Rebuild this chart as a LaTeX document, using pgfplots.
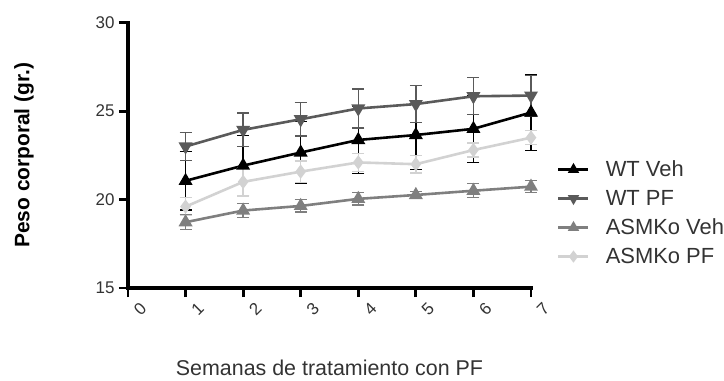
\documentclass[border=0pt]{standalone}
\usepackage{pgfplots}
\pgfplotsset{compat=1.18}
\usepackage{fontspec}
\setmainfont{Liberation Sans}

\definecolor{wtveh}{HTML}{000000}
\definecolor{wtpf}{HTML}{5A5A5A}
\definecolor{koveh}{HTML}{7F7F7F}
\definecolor{kopf}{HTML}{D2D2D2}
\definecolor{txt}{HTML}{333333}

% week, mean body weight (g), SEM
\pgfplotstableread{
x y e
1 21.06 1.65
2 21.92 1.70
3 22.66 1.75
4 23.37 1.90
5 23.65 1.95
6 24.00 1.90
7 24.92 2.15
}\wtveh
\pgfplotstableread{
x y e
1 23.00 0.80
2 23.94 0.95
3 24.54 0.95
4 25.15 1.10
5 25.40 1.05
6 25.84 1.05
7 25.88 1.15
}\wtpf
\pgfplotstableread{
x y e
1 18.72 0.40
2 19.38 0.40
3 19.64 0.35
4 20.04 0.35
5 20.26 0.20
6 20.50 0.40
7 20.73 0.35
}\koveh
\pgfplotstableread{
x y e
1 19.60 0.50
2 21.00 0.80
3 21.58 0.60
4 22.10 0.50
5 22.00 0.50
6 22.80 0.40
7 23.50 0.40
}\kopf

\begin{document}
\begin{tikzpicture}
\useasboundingbox (-128bp,-93bp) rectangle (596bp,288bp);
\begin{axis}[
  scale only axis,
  width=403bp, height=265.3bp,
  xmin=0, xmax=7, ymin=15, ymax=30,
  axis lines*=left,
  axis line style={line width=3.5bp, -, line cap=rect},
  xtick={0,...,7},
  ytick={15,20,25,30},
  tick align=outside,
  major tick length=9bp,
  tick style={line width=2.8bp, black},
  /pgf/number format/assume math mode=true,
  xticklabel style={rotate=45, anchor=center, yshift=-17bp},
  yticklabel style={xshift=-1bp},
  xticklabel={\fontsize{17}{19}\selectfont\color{txt}\pgfmathprintnumber{\tick}},
  yticklabel={\fontsize{17}{19}\selectfont\color{txt}\pgfmathprintnumber{\tick}},
  clip=false,
  xlabel={Semanas de tratamiento con PF},
  xlabel style={at={(axis description cs:0.5,0)}, anchor=center, yshift=-80bp,
    font=\fontsize{21.5}{25}\selectfont, text=txt},
  ylabel={Peso corporal (gr.)},
  ylabel style={at={(axis description cs:-0.258,0.5)}, anchor=center,
    font=\fontsize{21}{25}\selectfont\bfseries, text=black},
  legend style={at={(axis description cs:1,0.283)}, anchor=west, xshift=26bp,
    draw=none, fill=none, inner sep=0pt, row sep=8bp,
    font=\fontsize{22}{25}\selectfont, text=txt,
    nodes={inner sep=2bp},
    /tikz/every odd column/.style={column sep=14bp}},
  legend cell align=left,
  legend image code/.code={
    \draw[line width=2.6bp] (0bp,0bp) -- (30bp,0bp);
    \draw[line width=2.6bp] plot[mark size=4bp] coordinates {(15bp,0bp)};
  },
  every axis plot/.append style={line width=2.6bp},
  error bars/y dir=both,
  error bars/y explicit,
  error bars/error bar style={line width=1.3bp, solid},
  error bars/error mark options={rotate=90, mark size=6bp, line width=1.3bp},
]
\addplot[color=wtveh, mark=triangle*, mark size=5.5bp,
  mark options={solid, fill=wtveh}]
  table[x=x, y=y, y error=e] {\wtveh};
\addlegendentry{WT Veh}
\addplot[color=wtpf, mark=triangle*, mark size=5.5bp,
  mark options={solid, fill=wtpf, rotate=180}]
  table[x=x, y=y, y error=e] {\wtpf};
\addlegendentry{WT PF}
\addplot[color=koveh, mark=triangle*, mark size=5.5bp,
  mark options={solid, fill=koveh}]
  table[x=x, y=y, y error=e] {\koveh};
\addlegendentry{ASMKo Veh}
\addplot[color=kopf, mark=diamond*, mark size=5bp,
  mark options={solid, fill=kopf}]
  table[x=x, y=y, y error=e] {\kopf};
\addlegendentry{ASMKo PF}
\end{axis}
\end{tikzpicture}
\end{document}
